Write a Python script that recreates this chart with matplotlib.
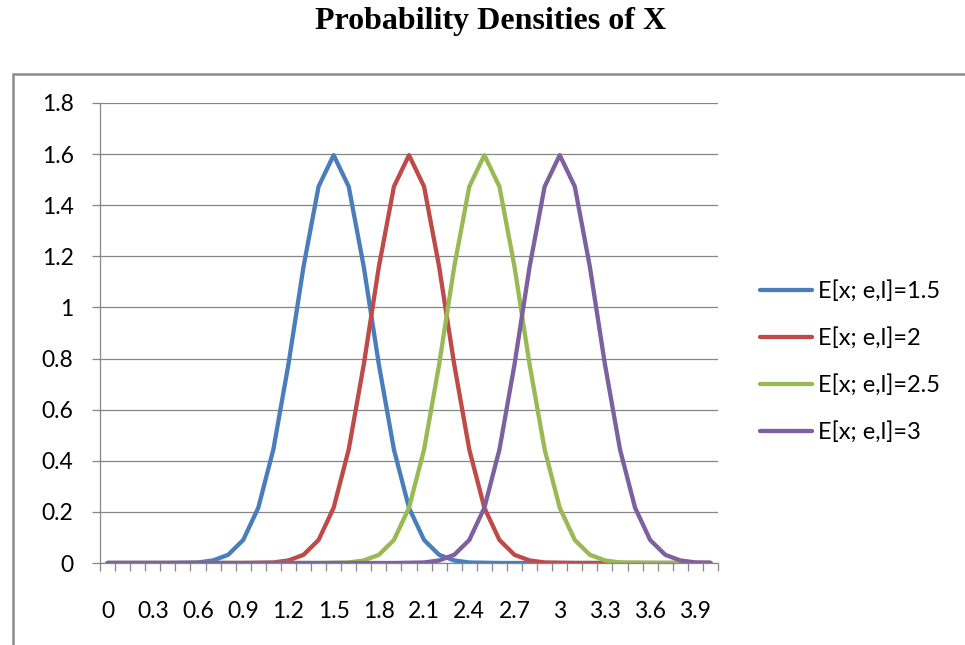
import matplotlib.pyplot as plt
from matplotlib.patches import Rectangle

# category axis 0, 0.1, ... 4.0
categories = ['0', '0.1', '0.2', '0.3', '0.4', '0.5', '0.6', '0.7', '0.8', '0.9',
              '1', '1.1', '1.2', '1.3', '1.4', '1.5', '1.6', '1.7', '1.8', '1.9',
              '2', '2.1', '2.2', '2.3', '2.4', '2.5', '2.6', '2.7', '2.8', '2.9',
              '3', '3.1', '3.2', '3.3', '3.4', '3.5', '3.6', '3.7', '3.8', '3.9', '4']

e_15 = [0, 0, 0, 0, 0, 0.001, 0.002, 0.010, 0.032, 0.090,
        0.216, 0.444, 0.777, 1.159, 1.473, 1.596, 1.473, 1.159, 0.777, 0.444,
        0.216, 0.090, 0.032, 0.010, 0.002, 0.001, 0, 0, 0, 0,
        0, 0, 0, 0, 0, 0, 0, 0, 0, 0, 0]
e_2 = [0, 0, 0, 0, 0, 0, 0, 0, 0, 0,
       0.001, 0.002, 0.010, 0.032, 0.090, 0.216, 0.444, 0.777, 1.159, 1.473,
       1.596, 1.473, 1.159, 0.777, 0.444, 0.216, 0.090, 0.032, 0.010, 0.002,
       0.001, 0, 0, 0, 0, 0, 0, 0, 0, 0, 0]
e_25 = [0, 0, 0, 0, 0, 0, 0, 0, 0, 0,
        0, 0, 0, 0, 0, 0.001, 0.002, 0.010, 0.032, 0.090,
        0.216, 0.444, 0.777, 1.159, 1.473, 1.596, 1.473, 1.159, 0.777, 0.444,
        0.216, 0.090, 0.032, 0.010, 0.002, 0.001, 0, 0, 0, 0, 0]
e_3 = [0, 0, 0, 0, 0, 0, 0, 0, 0, 0,
       0, 0, 0, 0, 0, 0, 0, 0, 0, 0,
       0.001, 0.002, 0.010, 0.032, 0.090, 0.216, 0.444, 0.777, 1.159, 1.473,
       1.596, 1.473, 1.159, 0.777, 0.444, 0.216, 0.090, 0.032, 0.010, 0.002, 0.001]

labels = ['E[x; e,l]=1.5', 'E[x; e,l]=2', 'E[x; e,l]=2.5', 'E[x; e,l]=3']
colors = ['#4A7EBB', '#BE4B48', '#98B954', '#7D60A0']

plt.rcParams['font.family'] = ['Lato', 'DejaVu Sans']

fig = plt.figure(figsize=(9.65, 6.45), dpi=100)
W, H = 965, 645

# outer chart border (runs off the right/bottom edge)
fig.patches.append(Rectangle((12.5 / W, -0.1), 1.2, 1 - 74 / H + 0.1,
                             transform=fig.transFigure, fill=False,
                             edgecolor='#8a8a8a', linewidth=1.8))

fig.text(491 / W, 1 - 22 / H, 'Probability Densities of X', ha='center', va='center',
         family='Liberation Serif', fontweight='bold', fontsize=23)

ax = fig.add_axes([100 / W, 1 - 563 / H, 618 / W, 460 / H])

x = list(range(len(categories)))
for ys, lab, c in zip([e_15, e_2, e_25, e_3], labels, colors):
    ax.plot(x, ys, color=c, lw=3.1, label=lab, solid_capstyle='round', solid_joinstyle='round')

ax.set_xlim(-0.5, len(categories) - 0.5)
ax.set_ylim(0, 1.8)
ax.set_yticks([i * 0.2 for i in range(10)])
ax.set_yticklabels(['0', '0.2', '0.4', '0.6', '0.8', '1', '1.2', '1.4', '1.6', '1.8'])
ax.yaxis.grid(True, color='#868686', lw=0.9)
ax.set_axisbelow(True)

# tick marks between categories, labels every third category
ax.set_xticks([i - 0.5 for i in range(len(categories) + 1)])
ax.set_xticklabels([])
ax.set_xticks(x[::3], minor=True)
ax.set_xticklabels(categories[::3], minor=True)
ax.tick_params(axis='x', which='major', length=6, width=0.9, color='#868686', direction='out')
ax.tick_params(axis='x', which='minor', length=0, pad=27, labelsize=16.5)
ax.tick_params(axis='y', length=6, width=0.9, color='#868686', labelsize=16.5, pad=13)

for s in ['top', 'right']:
    ax.spines[s].set_visible(False)
for s in ['left', 'bottom']:
    ax.spines[s].set_color('#868686')
    ax.spines[s].set_linewidth(0.9)

fig.legend(loc='center left', bbox_to_anchor=(760 / W, 1 - 361.5 / H), frameon=False,
           fontsize=17, borderpad=0, borderaxespad=0, labelspacing=1.07,
           handlelength=2.2, handletextpad=0.25)

fig.savefig('out.png', dpi=100)
